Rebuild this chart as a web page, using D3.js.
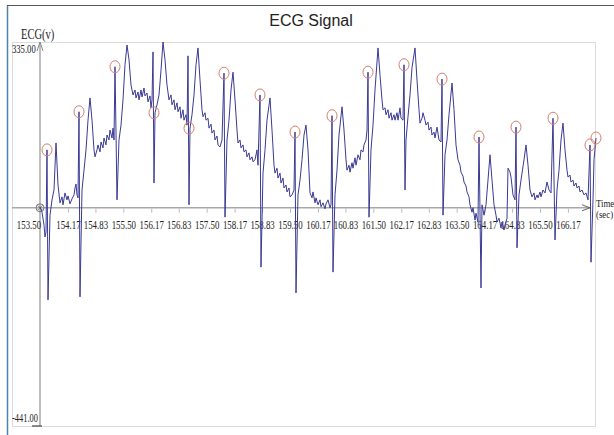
<!DOCTYPE html>
<html>
<head>
<meta charset="utf-8">
<script src="https://cdn.jsdelivr.net/npm/d3@7"></script>
<style>
    body { margin: 0; background: #fff; }
    svg { display: block; }
</style>
</head>
<body>
<div id="ecg-chart"></div>
<script>
// ECG samples: [time (sec), ECG (v)]
var signal = [
    [153.500, 2], [153.548, -9], [153.596, -35], [153.620, -59], [153.644, -49], [153.668, 117], [153.692, -186],
    [153.740, -15], [153.788, 16], [153.836, 36], [153.884, 131], [153.932, 46], [153.980, 10], [154.028, 22],
    [154.052, 6], [154.100, 30], [154.148, 16], [154.172, 24], [154.220, 8], [154.268, 18], [154.316, 26],
    [154.340, 40], [154.364, 48], [154.388, 26], [154.412, 20], [154.436, 194], [154.460, -180], [154.508, 36],
    [154.556, 76], [154.604, 117], [154.652, 177], [154.700, 222], [154.748, 177], [154.796, 117], [154.820, 103],
    [154.868, 117], [154.892, 127], [154.940, 113], [154.964, 133], [155.012, 121], [155.036, 141], [155.084, 127],
    [155.108, 147], [155.156, 137], [155.180, 157], [155.228, 141], [155.252, 161], [155.276, 137], [155.300, 285],
    [155.348, 16], [155.396, 137], [155.444, 167], [155.492, 218], [155.540, 289], [155.588, 329], [155.636, 299],
    [155.684, 248], [155.732, 228], [155.780, 238], [155.804, 222], [155.852, 234], [155.876, 218], [155.924, 238],
    [155.948, 224], [155.996, 242], [156.020, 226], [156.068, 232], [156.092, 214], [156.140, 226], [156.164, 202],
    [156.188, 218], [156.212, 315], [156.236, 50], [156.260, 192], [156.308, 208], [156.356, 228], [156.404, 278],
    [156.452, 335], [156.500, 299], [156.548, 248], [156.596, 218], [156.644, 228], [156.668, 208], [156.716, 218],
    [156.740, 198], [156.788, 212], [156.812, 194], [156.860, 204], [156.884, 181], [156.932, 198], [156.956, 177],
    [157.004, 188], [157.028, 167], [157.052, 307], [157.076, 6], [157.100, 161], [157.148, 188], [157.196, 228],
    [157.244, 289], [157.292, 323], [157.340, 258], [157.388, 198], [157.412, 184], [157.460, 192], [157.484, 177],
    [157.532, 181], [157.556, 161], [157.604, 169], [157.628, 151], [157.676, 157], [157.700, 137], [157.748, 145],
    [157.772, 127], [157.820, 123], [157.868, 137], [157.916, 272], [157.940, -19], [157.988, 137], [158.036, 177],
    [158.084, 238], [158.132, 274], [158.180, 218], [158.228, 157], [158.252, 131], [158.300, 137], [158.324, 121],
    [158.372, 127], [158.396, 113], [158.444, 117], [158.468, 103], [158.516, 111], [158.540, 97], [158.588, 103],
    [158.612, 93], [158.660, 97], [158.708, 117], [158.732, 86], [158.780, 228], [158.804, -120], [158.852, 70],
    [158.900, 117], [158.948, 177], [159.020, 222], [159.068, 157], [159.116, 86], [159.140, 70], [159.188, 80],
    [159.212, 60], [159.260, 70], [159.284, 50], [159.332, 60], [159.356, 40], [159.404, 46], [159.428, 32],
    [159.476, 40], [159.500, 22], [159.548, 26], [159.596, 36], [159.620, 153], [159.644, -172], [159.692, 26],
    [159.740, 56], [159.788, 97], [159.836, 147], [159.884, 167], [159.932, 117], [159.980, 30], [160.028, 20],
    [160.052, 32], [160.100, 10], [160.124, 20], [160.172, 6], [160.220, 16], [160.244, 2], [160.292, 10],
    [160.340, -2], [160.364, 8], [160.412, 16], [160.460, 0], [160.484, 6], [160.508, 186], [160.532, -130],
    [160.580, 26], [160.628, 76], [160.676, 147], [160.748, 204], [160.796, 157], [160.844, 97], [160.868, 76],
    [160.916, 86], [160.940, 72], [160.988, 91], [161.012, 80], [161.060, 101], [161.084, 86], [161.132, 107],
    [161.180, 97], [161.204, 117], [161.252, 113], [161.276, 127], [161.324, 137], [161.348, 157], [161.372, 274],
    [161.396, -19], [161.444, 117], [161.492, 167], [161.540, 238], [161.612, 323], [161.660, 268], [161.708, 218],
    [161.732, 198], [161.780, 202], [161.804, 188], [161.852, 198], [161.876, 181], [161.924, 192], [161.948, 177],
    [161.996, 188], [162.020, 177], [162.068, 192], [162.092, 177], [162.140, 202], [162.164, 181], [162.212, 177],
    [162.236, 289], [162.260, 36], [162.284, 137], [162.332, 184], [162.380, 228], [162.428, 283], [162.500, 323],
    [162.548, 258], [162.596, 198], [162.620, 171], [162.668, 181], [162.692, 192], [162.740, 177], [162.764, 167],
    [162.812, 173], [162.836, 157], [162.884, 163], [162.908, 147], [162.956, 153], [162.980, 141], [163.028, 163],
    [163.076, 137], [163.124, 133], [163.148, 260], [163.172, -15], [163.220, 107], [163.268, 137], [163.316, 188],
    [163.388, 252], [163.436, 198], [163.484, 127], [163.532, 97], [163.580, 86], [163.604, 72], [163.652, 64],
    [163.676, 52], [163.724, 44], [163.748, 32], [163.796, 22], [163.820, 6], [163.868, -9], [163.892, 0],
    [163.940, -25], [163.964, -11], [164.012, -29], [164.036, 143], [164.084, -162], [164.108, 6], [164.156, -15],
    [164.204, 6], [164.252, 56], [164.300, 107], [164.348, 56], [164.396, 6], [164.444, -15], [164.468, -29],
    [164.516, -21], [164.564, -41], [164.588, -29], [164.636, -45], [164.660, -35], [164.708, -21], [164.732, 80],
    [164.780, 72], [164.804, 62], [164.852, 26], [164.900, 16], [164.924, 163], [164.948, -81], [164.996, 26],
    [165.044, 56], [165.116, 97], [165.164, 127], [165.212, 86], [165.260, 36], [165.308, 22], [165.356, 30],
    [165.380, 16], [165.428, 26], [165.452, 20], [165.500, 32], [165.524, 22], [165.572, 36], [165.620, 30],
    [165.668, 52], [165.716, 36], [165.764, 30], [165.812, 181], [165.860, -65], [165.908, 36], [165.956, 76],
    [166.004, 137], [166.052, 171], [166.100, 117], [166.148, 76], [166.172, 62], [166.220, 66], [166.244, 52],
    [166.292, 56], [166.316, 44], [166.364, 50], [166.388, 40], [166.436, 44], [166.460, 32], [166.508, 36],
    [166.556, 26], [166.604, 30], [166.652, 16], [166.700, 127], [166.724, -110], [166.772, 16], [166.796, 97],
    [166.844, 141]
];

// detected R peaks (red circles)
var peaks = [
    [153.668, 117], [154.436, 194], [155.300, 285], [156.236, 192], [157.076, 161], [157.916, 272],
    [158.780, 228], [159.620, 153], [160.508, 186], [161.372, 274], [162.236, 289], [163.148, 260],
    [164.036, 143], [164.924, 163], [165.812, 181], [166.700, 127], [166.844, 141]
];

var xTickLabels = ["153.50", "154.17", "154.83", "155.50", "156.17", "156.83", "157.50", "158.17", "158.83", "159.50",
    "160.17", "160.83", "161.50", "162.17", "162.83", "163.50", "164.17", "164.83", "165.50", "166.17"];
var yMin = -441.00;
var yMax = 335.00;
var xMin = 153.50;
var xMax = 166.70;

(function() {
    'use strict';

    var width = 614,
        height = 435;

    // Layout (pixels)
    var layout = {
        left: 40,
        right: 590,
        top: 42,
        bottom: 426,
        boxLeft: 12,
        boxRight: 595
    };

    var serif = "Liberation Serif, Times New Roman, serif";

    var xScale = d3.scaleLinear()
        .domain([xMin, xMax])
        .range([layout.left, layout.right]);

    var yScale = d3.scaleLinear()
        .domain([yMin, yMax])
        .range([layout.bottom, layout.top]);

    var y0 = yScale(0);

    // Create D3 Elements
    var elChart = d3.select("#ecg-chart").append("svg")
        .attr("width", width)
        .attr("height", height);

    // condensed serif label, like the original's narrow Times
    var addLabel = function(x, y, txt, size, squeeze) {
        return elChart.append("text")
            .attr("transform", "translate(" + x + "," + y + ") scale(" + squeeze + ",1)")
            .style("font-family", serif)
            .style("font-size", size + "px")
            .attr("fill", "#222")
            .text(txt);
    };

    // window frame
    elChart.append("line")
        .attr("x1", 7).attr("x2", width).attr("y1", 5.5).attr("y2", 5.5)
        .attr("stroke", "#555").attr("stroke-width", 1);
    elChart.append("line")
        .attr("x1", 7.5).attr("x2", 7.5).attr("y1", 6).attr("y2", height)
        .attr("stroke", "#4d84ad").attr("stroke-width", 1.5);

    // dotted plot box
    elChart.append("rect")
        .attr("x", layout.boxLeft + 0.5)
        .attr("y", layout.top + 0.5)
        .attr("width", layout.boxRight - layout.boxLeft)
        .attr("height", layout.bottom - layout.top)
        .attr("fill", "none")
        .attr("stroke", "#b8b8b8")
        .attr("stroke-width", 1)
        .attr("stroke-dasharray", "1,1");

    // title
    elChart.append("text")
        .attr("x", 311).attr("y", 26)
        .attr("text-anchor", "middle")
        .style("font-family", "Liberation Sans, Arial, sans-serif")
        .style("font-size", "16px")
        .attr("fill", "#222")
        .text("ECG Signal");

    // y axis
    elChart.append("line")
        .attr("x1", layout.left).attr("x2", layout.left)
        .attr("y1", layout.bottom).attr("y2", layout.top)
        .attr("stroke", "#a8a8a8").attr("stroke-width", 1.5);
    elChart.append("path")
        .attr("d", "M" + (layout.left - 3) + "," + (layout.top + 9) + "L" + layout.left + "," + layout.top + "L" + (layout.left + 3) + "," + (layout.top + 9))
        .attr("fill", "none").attr("stroke", "#888").attr("stroke-width", 1);
    elChart.append("line")
        .attr("x1", layout.left - 8).attr("x2", layout.left + 2)
        .attr("y1", layout.bottom).attr("y2", layout.bottom)
        .attr("stroke", "#666").attr("stroke-width", 1.5);

    addLabel(21, 39, "ECG(v)", 15, 0.7);
    addLabel(12, yScale(yMax) + 11, yMax.toFixed(2), 12, 0.72);
    addLabel(12, yScale(yMin) - 4, yMin.toFixed(2), 12, 0.7);

    // x axis
    var xAxis = d3.axisBottom(xScale)
        .tickValues(xTickLabels.map(function(d) { return +d; }))
        .tickFormat(function(d, i) { return xTickLabels[i]; })
        .tickSize(4)
        .tickSizeOuter(0);

    var elXAxis = elChart.append("g")
        .attr("transform", "translate(0," + y0 + ")")
        .call(xAxis);
    elXAxis.select(".domain").remove();
    elXAxis.selectAll(".tick line").attr("stroke", "#bbb").attr("transform", "translate(0,1)");
    elXAxis.selectAll(".tick text")
        .attr("y", 12)
        .attr("fill", "#222")
        .attr("transform", "scale(0.68,1)")
        .style("font-family", serif)
        .style("font-size", "13px");
    elXAxis.selectAll(".tick text").filter(function(d, i) { return i === 0; })
        .attr("dx", -17);

    elChart.append("line")
        .attr("x1", layout.boxLeft).attr("x2", layout.right)
        .attr("y1", y0).attr("y2", y0)
        .attr("stroke", "#a8a8a8").attr("stroke-width", 1.5);
    elChart.append("path")
        .attr("d", "M" + (layout.right - 8) + "," + (y0 - 3) + "L" + layout.right + "," + y0 + "L" + (layout.right - 8) + "," + (y0 + 3))
        .attr("fill", "none").attr("stroke", "#666").attr("stroke-width", 1);

    addLabel(596, y0 - 1, "Time", 11, 0.8);
    addLabel(596, y0 + 10, "(sec)", 11, 0.8);

    // origin marker
    elChart.append("circle")
        .attr("cx", layout.left).attr("cy", y0).attr("r", 4)
        .attr("fill", "none").attr("stroke", "#777").attr("stroke-width", 1);
    elChart.append("path")
        .attr("d", "M" + (layout.left - 2.5) + "," + (y0 - 2.5) + "L" + (layout.left + 2.5) + "," + (y0 + 2.5) +
            "M" + (layout.left + 2.5) + "," + (y0 - 2.5) + "L" + (layout.left - 2.5) + "," + (y0 + 2.5))
        .attr("stroke", "#777").attr("stroke-width", 1);

    // signal
    var line = d3.line()
        .x(function(d) { return xScale(d[0]); })
        .y(function(d) { return yScale(d[1]); });

    elChart.append("path")
        .datum(signal)
        .attr("class", "line")
        .attr("d", line)
        .style("fill", "none")
        .style("stroke", "#3a3a94")
        .attr("stroke-width", 1);

    // R peak markers
    elChart.selectAll(".peak")
        .data(peaks)
        .enter().append("ellipse")
        .attr("class", "peak")
        .attr("cx", function(d) { return xScale(d[0]); })
        .attr("cy", function(d) { return yScale(d[1]); })
        .attr("rx", 5)
        .attr("ry", 6)
        .style("fill", "none")
        .style("stroke", "#d4806e")
        .attr("stroke-width", 1);
})();
</script>
</body>
</html>
